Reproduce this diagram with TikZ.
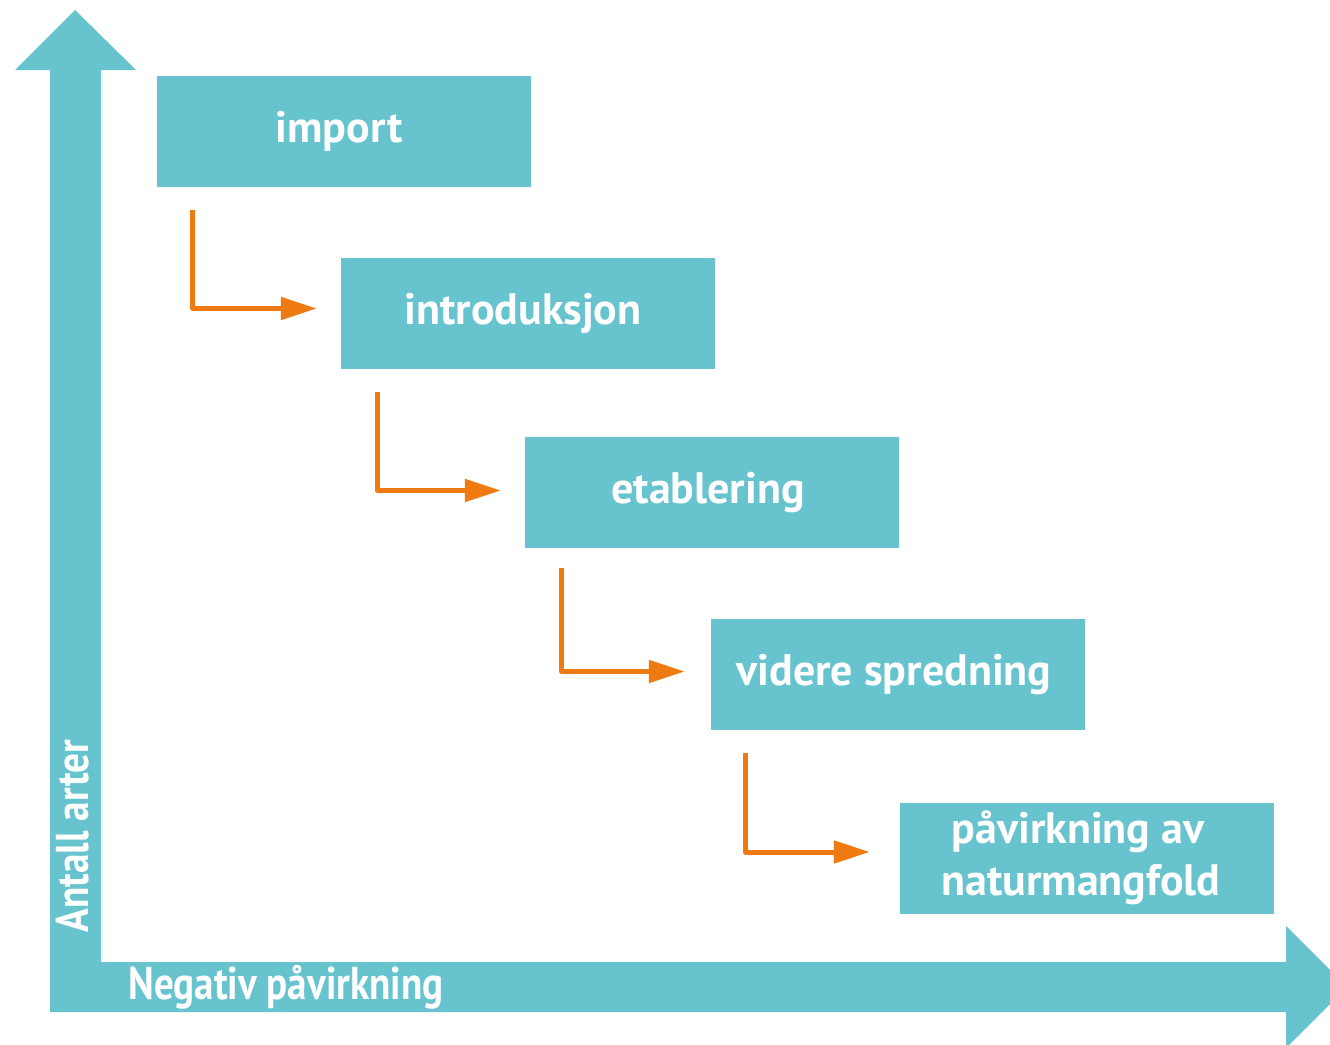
\documentclass[tikz,border=0pt]{standalone}
\usepackage{fontspec}
\setmainfont{PT Sans}
\usetikzlibrary{arrows.meta,calc}
\definecolor{teal1}{HTML}{67C3CE}
\definecolor{orange1}{HTML}{F07A12}
\begin{document}
\begin{tikzpicture}[x=1pt,y=-1pt,
  stage/.style={fill=teal1,minimum width=374pt,minimum height=111pt,inner sep=0pt,
    text=white,font=\fontsize{44}{52}\selectfont\bfseries,align=center},
  flow/.style={draw=orange1,line width=5pt,line join=round,
    -{Triangle[length=36pt,width=22pt]}},
  axislabel/.style={text=white,font=\fontsize{46}{50}\selectfont\bfseries,inner sep=0pt}]
\useasboundingbox (0,0) rectangle (1330,1044);
\begin{scope}
\clip (0,0) rectangle (1330,1044);
% axes
\fill[teal1] (50,1012) -- (50,70) -- (15,70) -- (75,10) -- (136,70) -- (101,70) -- (101,962)
  -- (1286,962) -- (1286,926) -- (1347,987) -- (1286,1048) -- (1286,1012) -- cycle;
\end{scope}
\node[axislabel,rotate=90] (yl) at (73,836) {\scalebox{0.85}[1]{Antall arter}};
\node[axislabel] (xl) at (286,987) {\scalebox{0.85}[1]{Negativ påvirkning}};
% stages
\node[stage] (imp) at (344,131.5) {\hspace*{-10pt}import};
\node[stage] (intro) at (528,313.5) {\hspace*{-10pt}introduksjon};
\node[stage] (etab) at (712,492.5) {\hspace*{-8pt}etablering};
\node[stage] (vid) at (898,674.5) {\hspace*{-8pt}videre spredning};
\node[stage] (pav) at (1087,858) {\hspace*{-18pt}påvirkning av\\\hspace*{-12pt}naturmangfold};
% flows
\draw[flow] ($(imp.south west)+(36,23)$) |- ($(intro.west)+(-24,-5)$);
\draw[flow] ($(intro.south west)+(37,23)$) |- ($(etab.west)+(-24,-2)$);
\draw[flow] ($(etab.south west)+(37,20)$) |- ($(vid.west)+(-26,-3)$);
\draw[flow] ($(vid.south west)+(35,23)$) |- ($(pav.west)+(-30,-6)$);
\end{tikzpicture}
\end{document}
